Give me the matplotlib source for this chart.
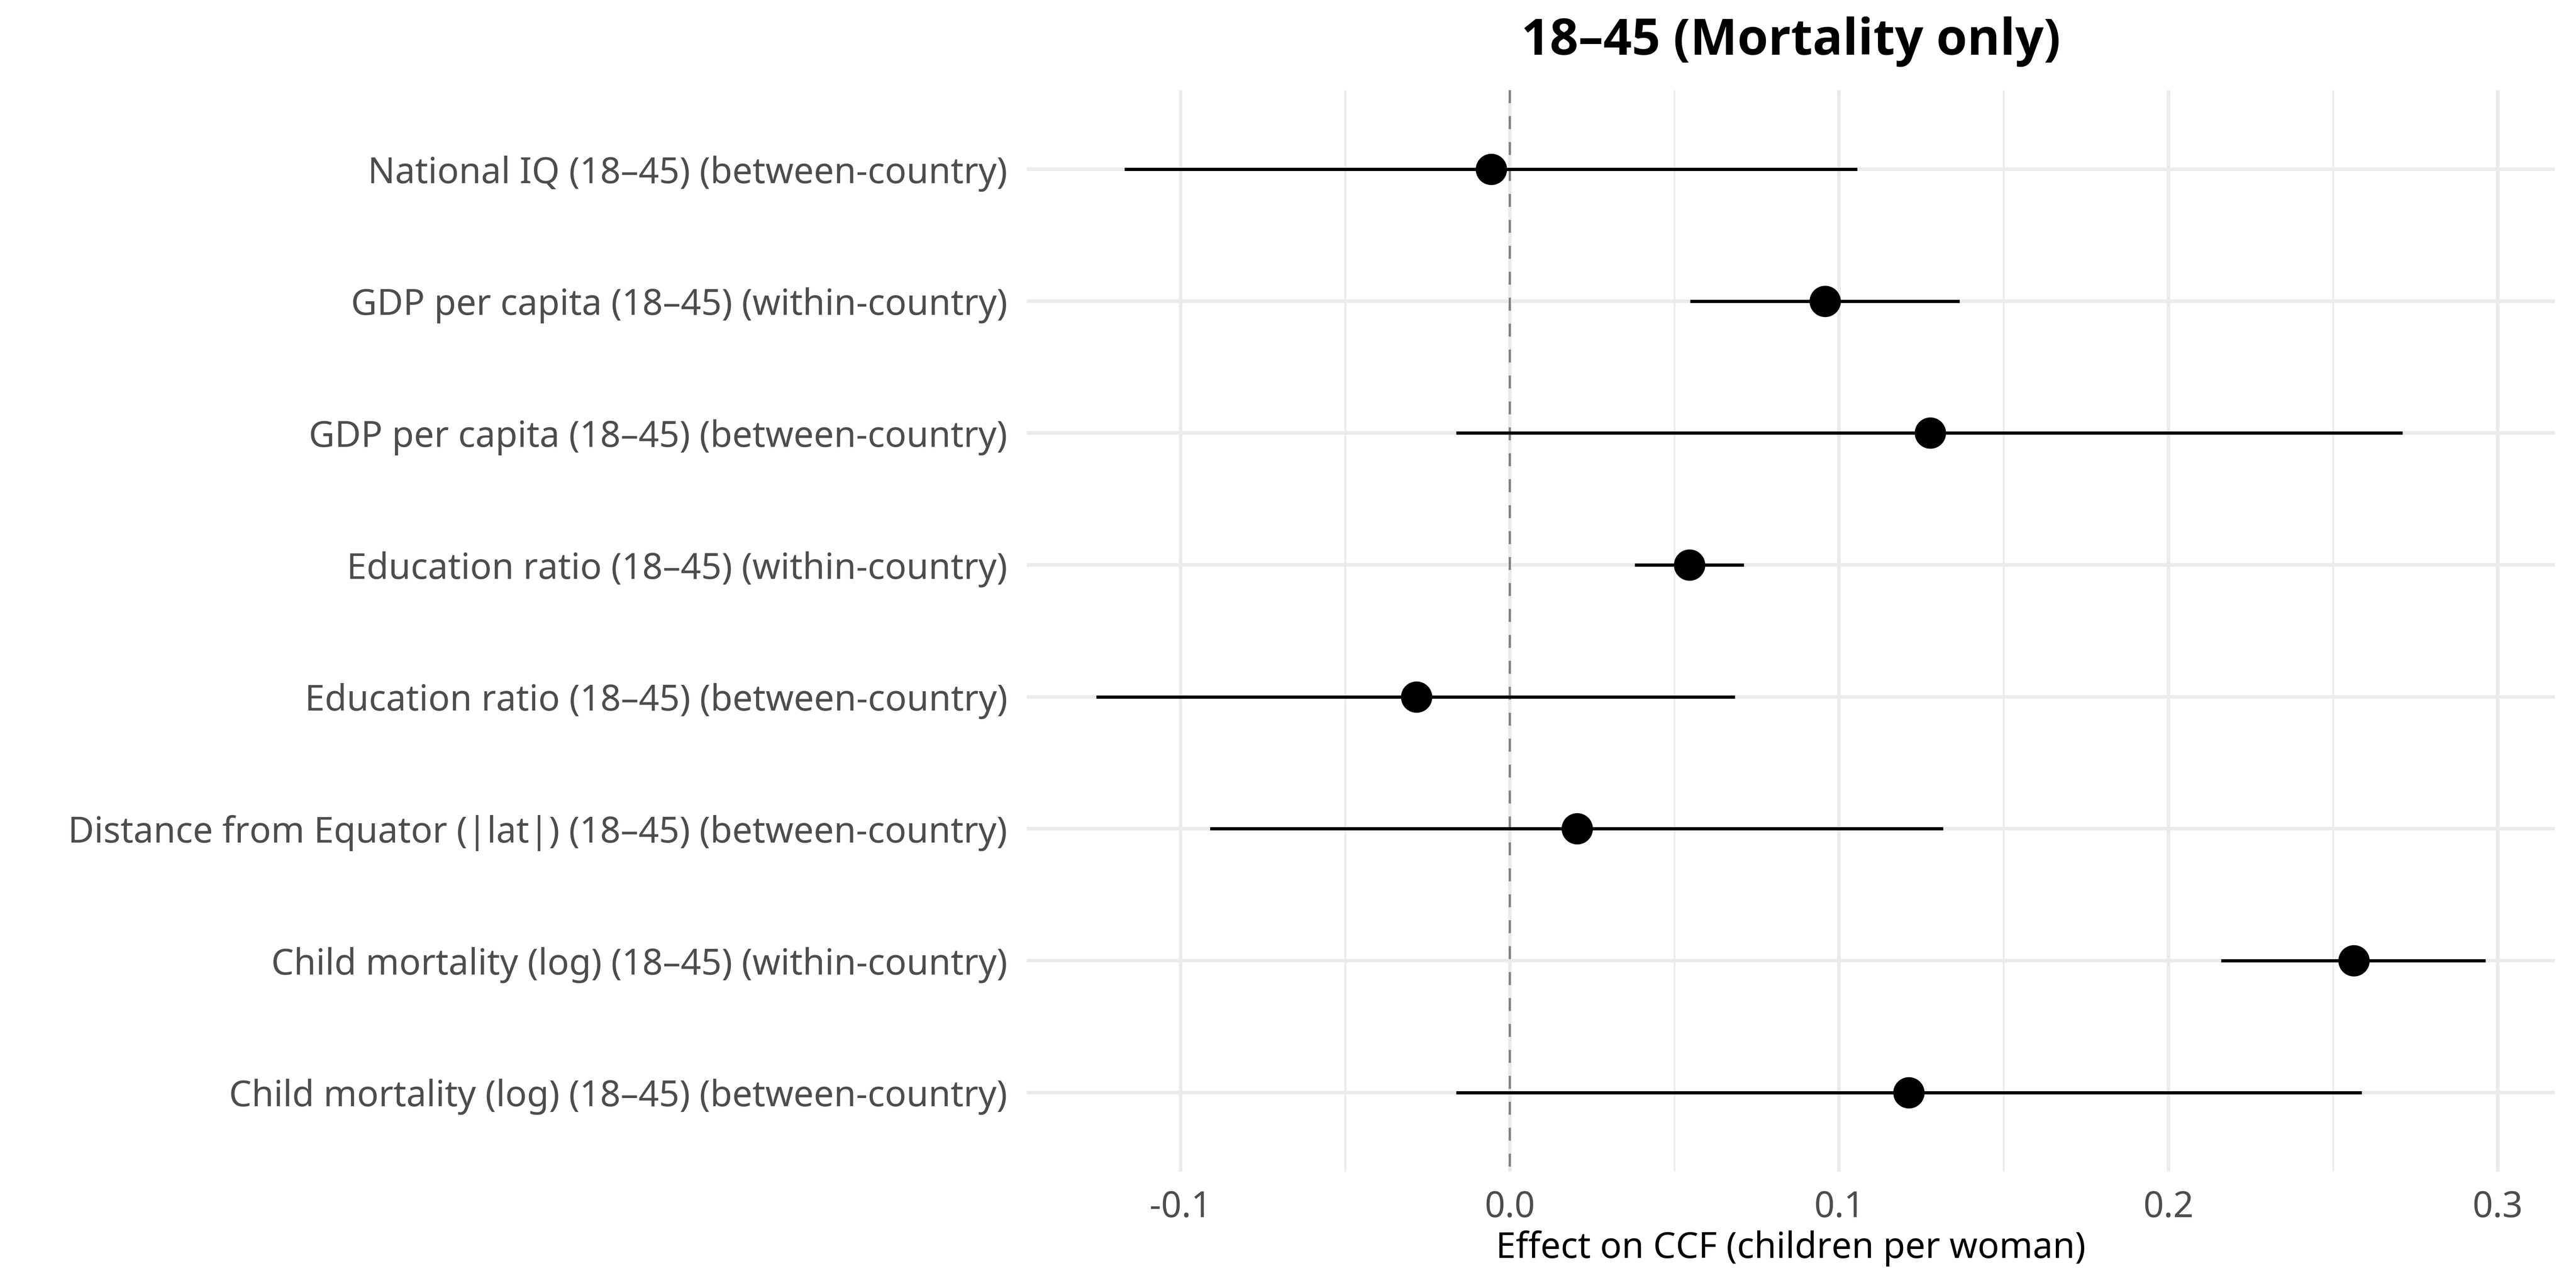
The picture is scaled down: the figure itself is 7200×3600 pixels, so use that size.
import numpy as np
import matplotlib
matplotlib.use('Agg')
import matplotlib.pyplot as plt
from matplotlib.ticker import MultipleLocator

plt.rcParams['font.family'] = ['Noto Sans', 'DejaVu Sans']

# Data (top to bottom as shown)
labels = [
    'National IQ (18–45) (between-country)',
    'GDP per capita (18–45) (within-country)',
    'GDP per capita (18–45) (between-country)',
    'Education ratio (18–45) (within-country)',
    'Education ratio (18–45) (between-country)',
    'Distance from Equator (|lat|) (18–45) (between-country)',
    'Child mortality (log) (18–45) (within-country)',
    'Child mortality (log) (18–45) (between-country)',
]
estimate = [-0.0056, 0.0957, 0.1277, 0.0545, -0.0284, 0.0204, 0.2563, 0.1212]
ci_low = [-0.1170, 0.0548, -0.0163, 0.0379, -0.1256, -0.0910, 0.2160, -0.0163]
ci_high = [0.1055, 0.1366, 0.2711, 0.0711, 0.0684, 0.1316, 0.2963, 0.2587]

title = '18–45 (Mortality only)'
xlabel = 'Effect on CCF (children per woman)'

grid_col = '#EBEBEB'
text_col = '#4D4D4D'

fig = plt.figure(figsize=(24, 12), dpi=300)
ax = fig.add_axes([0.3986, 0.0903, 0.5932, 0.8397])

y = np.arange(len(labels))
n = len(labels)

# ggplot-like expansion
lo = min(ci_low)
hi = max(ci_high)
span = hi - lo
ax.set_xlim(lo - 0.05 * span, hi + 0.05 * span)
ax.set_ylim(n - 0.4, -0.6)

# grid
ax.xaxis.set_major_locator(MultipleLocator(0.1))
ax.xaxis.set_minor_locator(MultipleLocator(0.05))
ax.set_yticks(y)
ax.grid(True, which='major', axis='both', color=grid_col, linewidth=2.4, zorder=0)
ax.grid(True, which='minor', axis='x', color=grid_col, linewidth=1.2, zorder=0)
ax.set_axisbelow(True)

# zero reference line (drawn top to bottom like ggplot)
ax.plot([0, 0], [-0.6, n - 0.4], color='#7F7F7F', linewidth=1.45,
        linestyle=(0, (6.0, 6.0)), zorder=1)

# intervals and points
ax.hlines(y, ci_low, ci_high, color='black', linewidth=2.16, zorder=2)
ax.plot(estimate, y, 'o', color='black', markersize=21, markeredgewidth=0, zorder=3)

ax.set_yticklabels(labels)
ax.set_xticklabels([f'{v:.1f}' for v in ax.get_xticks()])
ax.tick_params(axis='both', which='both', length=0, labelsize=24, labelcolor=text_col)
ax.tick_params(axis='y', pad=13)
ax.tick_params(axis='x', pad=12)

for s in ax.spines.values():
    s.set_visible(False)

ax.set_xlabel(xlabel, fontsize=24, color='black', va='center')
ax.xaxis.set_label_coords(0.5, -0.0711)

ax.set_title(title, fontsize=33.5, fontweight='bold', family=['Open Sans', 'DejaVu Sans'],
             y=1 + 136 / 3024, pad=0, va='center')

fig.savefig('out.png', dpi=300, facecolor='white')
